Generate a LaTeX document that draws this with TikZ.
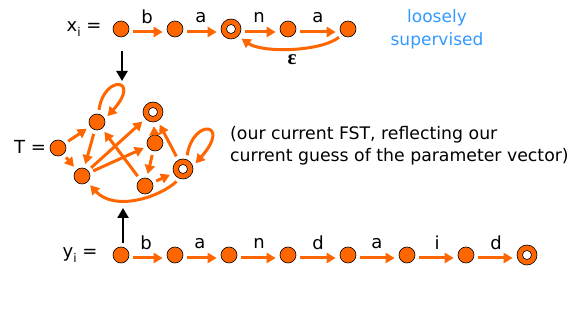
\documentclass[tikz,border=0pt]{standalone}
\usepackage{fontspec}
\setmainfont{DejaVu Sans}
\newfontfamily\greekfont{Liberation Serif}
\usetikzlibrary{arrows.meta}
\definecolor{org}{HTML}{FF6600}
\definecolor{sky}{HTML}{3399FF}
\begin{document}
\begin{tikzpicture}[x=1pt,y=-1pt,
  st/.style={circle, fill=org, draw=black, line width=0.6pt, minimum size=16pt, inner sep=0pt},
  fin/.style={st, minimum size=20pt, path picture={\draw[fill=white, line width=0.6pt] (path picture bounding box.center) circle (4.5pt);}},
  tr/.style={draw=org, line width=3pt, -{Triangle[length=9pt,width=10pt]}, shorten <=4pt, shorten >=4pt},
  ch/.style={tr, transform canvas={yshift=-3pt}},
  blk/.style={draw=black, line width=2.8pt, -{Triangle[length=10pt,width=11pt]}},
  lab/.style={font=\fontsize{18}{18}\selectfont, inner sep=0pt},
  big/.style={font=\fontsize{18}{18}\selectfont, inner sep=0pt},
]
\useasboundingbox (0,0) rectangle (574,320);

% x_i chain
\node[big] (xl) at (84,29) {x\raisebox{-5pt}{\fontsize{12}{12}\selectfont i} =};
\node[st] (x1) at (121,29) {};
\node[st] (x2) at (175,29) {};
\node[fin] (x3) at (231,29) {};
\node[st] (x4) at (288,29) {};
\node[st] (x5) at (348,29) {};
\draw[ch] (x1) -- (x2);
\draw[ch] (x2) -- (x3);
\draw[ch] (x3) -- (x4);
\draw[ch] (x4) -- (x5);
\node[lab] (lb1) at (147,17) {b};
\node[lab] (lb2) at (201,18) {a};
\node[lab] (lb3) at (259,17) {n};
\node[lab] (lb4) at (318,18) {a};
\draw[tr] (x5.south west) .. controls (320,52) and (262,53) .. (x3.south east);
\node[inner sep=0pt, font=\greekfont\bfseries\fontsize{21}{21}\selectfont] (eps) at (292,60) {ε};

\node[align=center, text=sky, font=\fontsize{17}{23}\selectfont] (loose) at (437,29) {loosely\\supervised};

% arrows to T
\coordinate (tin) at (122,81);
\draw[blk] (x1) ++(1,22) coordinate (xs) (xs) -- (tin);

% T graph
\node[big] (tl) at (30,147) {T =};
\node[st] (tA) at (58,148) {};
\node[st] (tB) at (97,122) {};
\node[st] (tC) at (82,176) {};
\node[fin] (tD) at (153,112) {};
\node[st] (tE) at (155,143) {};
\node[st] (tF) at (145,186) {};
\node[fin] (tG) at (183,169) {};
\begin{scope}[shorten <=3pt, shorten >=2pt]
\draw[tr] (tA) -- (tB);
\draw[tr] (tA) -- (tC);
\draw[tr] (tB) -- (tC);
\draw[tr] (tC) -- (tD);
\draw[tr] (tC) -- (tE);
\draw[tr] (tF) -- (tB);
\draw[tr] (tE) -- (tD);
\draw[tr] (tE) -- (tF);
\draw[tr] (tF) -- (tG);
\draw[tr] (tG) -- (tD);
\end{scope}
\draw[tr] (tB.80) .. controls (104,74) and (142,78) .. (tB.20);
\draw[tr] (tG.70) .. controls (193,118) and (232,122) .. (tG.15);
\draw[tr] (tG.250) .. controls (160,197) and (115,212) .. (tC.-50);

\node[anchor=west, align=left, font=\fontsize{17.3}{22}\selectfont, inner sep=0pt] (desc) at (230,146) {(our current FST, reflecting our\\current guess of the parameter vector)};

% y_i chain
\node[big] (yl) at (80,255) {y\raisebox{-5pt}{\fontsize{12}{12}\selectfont i} =};
\node[st] (y1) at (121,255) {};
\node[st] (y2) at (175,255) {};
\node[st] (y3) at (229,255) {};
\node[st] (y4) at (288,255) {};
\node[st] (y5) at (348,255) {};
\node[st] (y6) at (407,255) {};
\node[st] (y7) at (466,255) {};
\node[fin] (y8) at (527,255) {};
\foreach \a/\b in {y1/y2,y2/y3,y3/y4,y4/y5,y5/y6,y6/y7,y7/y8}{\draw[ch] (\a) -- (\b);}
\node[lab] (lc1) at (146,243) {b};
\node[lab] (lc2) at (200,244) {a};
\node[lab] (lc3) at (259,243) {n};
\node[lab] (lc4) at (318,243) {d};
\node[lab] (lc5) at (377,244) {a};
\node[lab] (lc6) at (437,243) {i};
\node[lab] (lc7) at (496,243) {d};
\coordinate (tout) at (123,208);
\draw[blk] (y1) ++(2,-12) coordinate (ys) (ys) -- (tout);
\end{tikzpicture}
\end{document}
